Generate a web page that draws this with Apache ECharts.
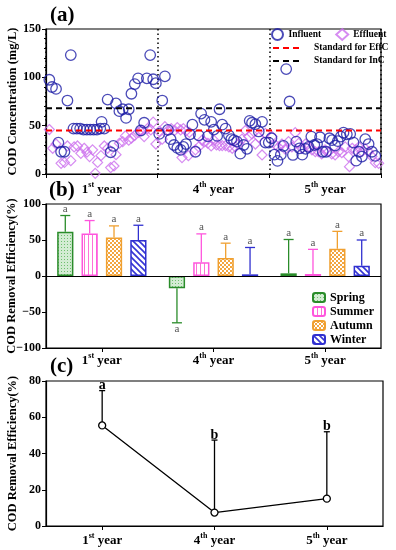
<!DOCTYPE html>
<html><head><meta charset="utf-8">
<script src="https://cdn.jsdelivr.net/npm/echarts@6/dist/echarts.min.js"></script>
<style>html,body{margin:0;padding:0;background:#fff}#c{width:396px;height:550px}</style>
</head><body><div id="c"></div><script>
// ---------- DATA ----------
const yearNum = ['1', '4', '5'];
const yearSup = ['st', 'th', 'th'];
const years = ['1st year', '4th year', '5th year'];

// Panel (a): [sampling position (0-100), COD mg/L]
const influent = [[1.0,97.5],[1.8,90],[3.0,88],[3.7,32.5],[4.5,23],[5.5,23],[6.4,76],[7.4,123],[8.2,47],[9.2,47],[10.2,47],[11.2,46],[12.2,46],[13.2,46],[14.2,46],[15.2,46],[16.2,47],[16.6,54],[17.4,47],[18.4,77],[19.3,22.5],[20.1,29],[20.9,73],[21.9,65],[22.9,67],[23.9,58],[24.7,67],[25.5,83],[26.5,93],[27.5,99],[28.3,45],[29.3,53],[30.1,99],[31.1,123],[32.0,98],[32.8,94],[33.8,41.5],[34.7,76],[35.5,101],[36.4,45.6],
[37.2,36],[38.2,30],[39.2,27],[40.2,25],[41.0,28],[41.8,31],[43.0,41],[43.7,51],[44.6,23],[45.6,40],[46.3,62.5],[47.3,56],[48.3,39],[49.3,54],[50.1,46],[51.1,39.4],[51.8,67],[52.6,51],[53.6,47],[54.6,40],[55.3,36],[56.1,35],[57.0,33.5],[58.0,21],[59.0,30],[60.0,26],[60.8,55],[61.5,53],[62.5,51.5],[63.5,44],[64.5,54],[65.5,32.5],[66.5,32.5],
[67.3,37],[68.2,20],[69.1,13.5],[70.1,20],[70.9,29],[71.7,108.5],[72.7,75],[73.7,19.7],[74.7,33.5],[75.7,26.6],[76.5,20],[77.5,26],[78.4,28],[79.2,38.7],[80.1,30],[80.9,31],[81.8,38],[82.6,23],[83.6,23],[84.6,37],[85.4,35],[86.3,29.4],[87.1,34],[88.0,38.7],[88.8,42.8],[89.8,41],[90.8,41.5],[91.8,32.5],[92.6,13.8],[93.4,23],[94.3,18],[95.3,36],[96.3,31],[97.3,23],[98.3,18.7]];
const effluent = [[1.0,46],[2.0,26.6],[3.0,31],[4.5,11],[5.5,12],[6.4,29],[7.4,13.8],[8.4,28],[9.4,29],[10.4,21.4],[11.4,26.6],[12.2,22.5],[13.0,18],[13.9,25],[14.7,0.7],[15.4,12],[16.4,19],[17.4,29],[18.4,26.6],[19.3,6.6],[20.3,8.3],[20.9,20],[21.9,31.8],[22.9,33.5],[23.7,39.4],[24.7,35],[25.5,37],[26.5,40],[27.5,43],[28.5,45],[29.3,38.7],[30.3,47],[31.3,45.6],[32.0,53.6],[32.8,31],[33.8,44],
[34.7,36],[35.5,49],[36.4,45],[37.4,47],[38.4,45],[39.2,48],[40.2,45.6],[40.6,17],[41.0,47],[41.8,44.6],[42.5,19],[42.8,43],[44.6,25],[45.6,28],[46.6,35],[47.3,33.5],[48.3,31.8],[49.3,29],[50.1,35],[50.9,30],[51.8,29.4],[52.6,29.4],[53.6,29.4],[54.6,28],[55.6,26.6],[56.5,28],[57.5,31],[58.5,36],[59.5,45],[60.5,38.7],[61.5,41.5],[62.5,31],[63.5,38],[64.5,19.7],[65.5,42],
[67.5,38.7],[68.5,30],[69.4,27.6],[70.4,31],[71.4,25.6],[72.4,33.5],[73.4,28],[74.4,42.8],[75.4,31.8],[76.4,26.6],[77.4,31],[78.4,28],[79.4,25],[80.4,23],[81.3,23],[82.3,20.7],[83.3,25],[84.3,23],[85.3,20.7],[86.3,19.7],[87.3,23],[88.3,22],[89.3,28],[90.3,18],[90.6,7.6],[91.4,26.6],[92.4,25],[93.4,28],[94.3,23],[95.3,26],[96.3,23],[97.3,18],[98.3,11.7],[99.3,11]];
const stdEff = 45;
const stdInf = 68;

// Panel (b): seasonal removal efficiency (%) per year
const seasons = ['Spring', 'Summer', 'Autumn', 'Winter'];
const springMean = [61.5, -17, 3.7];
const summerMean = [59, 19, 2.8];
const autumnMean = [53.5, 25, 37.8];
const winterMean = [50, 2.3, 14.3];
const springErr = [84, -65, 50.7];
const summerErr = [77, 58.5, 37];
const autumnErr = [69.6, 45.6, 62];
const winterErr = [70.5, 39.6, 50];
const seasonLetters = ['a', 'a', 'a'];

// Panel (c): yearly removal efficiency (%)
const yearMean = [55.5, 7.4, 15.1];
const yearErr = [74.7, 47.4, 52];
const yearLetters = ['a', 'b', 'b'];

// ---------- STYLE ----------
const FONT = '"Liberation Serif", "Times New Roman", serif';
function pat(w, h, draw) {
  const c = document.createElement('canvas'); c.width = w; c.height = h;
  draw(c.getContext('2d')); return { image: c, repeat: 'repeat' };
}
const patterns = [
  pat(3, 3, g => { g.fillStyle = '#d3ecd3'; g.fillRect(0,0,3,3); g.fillStyle = '#6fbf6f'; g.fillRect(1,1,1,1); }),
  pat(4, 1, g => { g.fillStyle = '#fff'; g.fillRect(0,0,4,1); g.fillStyle = '#ff70d8'; g.fillRect(0,0,1,1); }),
  pat(4, 4, g => { g.fillStyle = '#fff'; g.fillRect(0,0,4,4); g.fillStyle = '#f3a640'; g.fillRect(0,0,2,2); g.fillRect(2,2,2,2); }),
  pat(6, 6, g => { g.fillStyle = '#fff'; g.fillRect(0,0,6,6); g.strokeStyle = '#3535d5'; g.lineWidth = 1.6;
    g.beginPath(); g.moveTo(-1,-1); g.lineTo(7,7); g.moveTo(-4,2); g.lineTo(4,10); g.moveTo(2,-4); g.lineTo(10,4); g.stroke(); })
];
const edges = ['#2a8c2a', '#ff55dd', '#f0a030', '#3030d0'];
const means = [springMean, summerMean, autumnMean, winterMean];
const errs = [springErr, summerErr, autumnErr, winterErr];
const dashIcon = 'path://M0,0h6v2h-6z M10,0h6v2h-6z M20,0h6v2h-6z';

const rich = {
  n: { fontFamily: FONT, fontWeight: 'bold', fontSize: 13, color: '#000', lineHeight: 15, verticalAlign: 'bottom' },
  s: { fontFamily: FONT, fontWeight: 'bold', fontSize: 8, color: '#000', lineHeight: 8, verticalAlign: 'top' }
};
const yearFmt = (v, i) => `{n|${yearNum[i]}}{s|${yearSup[i]}}{n| year}`;
const tickLbl = { fontFamily: FONT, fontWeight: 'bold', fontSize: 12, color: '#000', margin: 5 };
const axLine = { show: true, lineStyle: { color: '#000', width: 1.2 } };
const nameStyle = { fontFamily: FONT, fontWeight: 'bold', fontSize: 12.5, color: '#000' };

const series = [
  { name: 'Influent', type: 'scatter', xAxisIndex: 0, yAxisIndex: 0, data: influent, symbol: 'circle', symbolSize: 10.5,
    itemStyle: { color: 'rgba(0,0,0,0)', borderColor: '#1e1ea6', borderWidth: 1.3 }, z: 3 },
  { name: 'Effluent', type: 'scatter', xAxisIndex: 0, yAxisIndex: 0, data: effluent, symbol: 'diamond', symbolSize: 10,
    itemStyle: { color: 'rgba(0,0,0,0)', borderColor: '#cc6fee', borderWidth: 1.2 }, z: 2 },
  { name: 'Standard for EffC', type: 'line', xAxisIndex: 0, yAxisIndex: 0, data: [[0, stdEff], [100, stdEff]], symbol: 'none',
    lineStyle: { color: '#ff0000', width: 2, type: [6, 4] }, itemStyle: { color: '#ff0000' }, z: 5, silent: true },
  { name: 'Standard for InC', type: 'line', xAxisIndex: 0, yAxisIndex: 0, data: [[0, stdInf], [100, stdInf]], symbol: 'none',
    lineStyle: { color: '#000', width: 2, type: [6, 4] }, itemStyle: { color: '#000' }, z: 5, silent: true }
];

seasons.forEach((s, k) => {
  series.push({
    name: s, type: 'bar', xAxisIndex: 2, yAxisIndex: 1, data: means[k],
    barCategoryGap: '20%', barGap: '50%',
    itemStyle: { color: patterns[k], borderColor: edges[k], borderWidth: 1.5 },
    markLine: k === 0 ? { silent: true, symbol: 'none', label: { show: false },
      lineStyle: { color: '#000', width: 1.2, type: 'solid' }, data: [{ yAxis: 0 }] } : undefined
  });
});
seasons.forEach((s, k) => {
  series.push({
    type: 'custom', xAxisIndex: 2, yAxisIndex: 1, z: 4, silent: true,
    data: means[k].map((m, i) => [i, m, errs[k][i]]),
    encode: { x: 0, y: [1, 2] },
    renderItem: (params, api) => {
      const i = api.value(0), m = api.value(1), e = api.value(2);
      const band = api.size([1, 0])[0];
      const w = band * 0.8 / 5.5;
      const off = -band * 0.4 + w / 2 + k * 1.5 * w;
      const p0 = api.coord([i, m]), p1 = api.coord([i, e]);
      const x = p0[0] + off;
      const neg = e < m;
      return { type: 'group', children: [
        { type: 'line', shape: { x1: x, y1: p0[1], x2: x, y2: p1[1] }, style: { stroke: edges[k], lineWidth: 1.3 } },
        { type: 'line', shape: { x1: x - 5, y1: p1[1], x2: x + 5, y2: p1[1] }, style: { stroke: edges[k], lineWidth: 1.3 } },
        { type: 'text', style: { text: seasonLetters[i], x: x, y: neg ? p1[1] + 1 : p1[1] - 1,
          align: 'center', verticalAlign: neg ? 'top' : 'bottom', font: '11px ' + FONT, fill: '#555' } }
      ] };
    }
  });
});

series.push({
  type: 'custom', xAxisIndex: 3, yAxisIndex: 2, z: 2, silent: true,
  data: yearMean.map((m, i) => [i, m, yearErr[i]]),
  encode: { x: 0, y: [1, 2] },
  renderItem: (params, api) => {
    const i = api.value(0);
    const p0 = api.coord([i, api.value(1)]), p1 = api.coord([i, api.value(2)]);
    return { type: 'group', children: [
      { type: 'line', shape: { x1: p0[0], y1: p0[1], x2: p0[0], y2: p1[1] }, style: { stroke: '#000', lineWidth: 1.3 } },
      { type: 'line', shape: { x1: p0[0] - 3, y1: p1[1], x2: p0[0] + 3, y2: p1[1] }, style: { stroke: '#000', lineWidth: 1.3 } },
      { type: 'text', style: { text: yearLetters[i], x: p0[0], y: p1[1] + 2, align: 'center', verticalAlign: 'bottom',
        font: 'bold 14px ' + FONT, fill: '#000' } }
    ] };
  }
});
series.push({
  name: 'Year', type: 'line', xAxisIndex: 3, yAxisIndex: 2, data: yearMean, symbol: 'circle', symbolSize: 7, z: 4,
  lineStyle: { color: '#000', width: 1.3 }, itemStyle: { color: '#fff', borderColor: '#000', borderWidth: 1.3 }
});

const gridBase = { show: true, borderColor: '#000', borderWidth: 1.2, backgroundColor: 'transparent', containLabel: false, outerBoundsMode: 'none' };
const yName = (text, gap) => ({ name: text, nameLocation: 'middle', nameGap: gap, nameMoveOverlap: false,
  nameTruncate: { maxWidth: 400 }, nameTextStyle: nameStyle });
const chart = echarts.init(document.getElementById('c'), null, { renderer: 'canvas' });
chart.setOption({
  backgroundColor: '#fff',
  animation: false,
  textStyle: { fontFamily: FONT },
  grid: [
    { ...gridBase, left: 46, top: 29, width: 335, height: 145 },
    { ...gridBase, left: 46, top: 204, width: 335, height: 144 },
    { ...gridBase, left: 46, top: 381, width: 337, height: 145 }
  ],
  xAxis: [
    { type: 'value', gridIndex: 0, min: 0, max: 100, show: false, position: 'top' },
    { type: 'category', gridIndex: 0, data: years, boundaryGap: true, position: 'bottom', axisLine: axLine,
      axisTick: { show: true, length: 4, interval: 0, lineStyle: { color: '#000' } },
      axisLabel: { formatter: yearFmt, rich: rich, margin: 7, interval: 0 },
      splitLine: { show: true, interval: 0, lineStyle: { color: '#000', type: [1.5, 3], width: 1.5 } } },
    { type: 'category', gridIndex: 1, data: years, position: 'bottom', axisLine: { ...axLine, onZero: false },
      axisTick: { show: true, alignWithLabel: true, interval: 0, length: 4, lineStyle: { color: '#000' } },
      axisLabel: { formatter: yearFmt, rich: rich, margin: 4, interval: 0 } },
    { type: 'category', gridIndex: 2, data: years, position: 'bottom', axisLine: axLine,
      axisTick: { show: true, alignWithLabel: true, interval: 0, length: 4, lineStyle: { color: '#000' } },
      axisLabel: { formatter: yearFmt, rich: rich, margin: 6, interval: 0 } }
  ],
  yAxis: [
    { type: 'value', gridIndex: 0, min: 0, max: 150, interval: 50, axisLine: axLine,
      axisTick: { show: true, length: 4, lineStyle: { color: '#000' } },
      minorTick: { show: true, splitNumber: 5, length: 2, lineStyle: { color: '#000' } },
      splitLine: { show: false }, axisLabel: tickLbl, ...yName('COD Concentration (mg/L)', 27) },
    { type: 'value', gridIndex: 1, min: -100, max: 100, interval: 50, axisLine: axLine,
      axisTick: { show: true, length: 4, lineStyle: { color: '#000' } },
      splitLine: { show: false }, axisLabel: { ...tickLbl, formatter: v => v < 0 ? '\u2212' + Math.abs(v) : String(v) },
      ...yName('COD Removal Efficiency(%)', 28) },
    { type: 'value', gridIndex: 2, min: 0, max: 80, interval: 20, axisLine: axLine,
      axisTick: { show: true, length: 4, lineStyle: { color: '#000' } },
      splitLine: { show: false }, axisLabel: tickLbl, ...yName('COD Removal Efficiency(%)', 27) }
  ],
  legend: [
    { data: ['Influent', 'Effluent'], orient: 'horizontal', left: 271, top: 28, itemWidth: 12, itemHeight: 11, itemGap: 14,
      padding: 0, textStyle: { fontFamily: FONT, fontWeight: 'bold', fontSize: 9.5, color: '#000' } },
    { data: [{ name: 'Standard for EffC', icon: dashIcon, itemStyle: { color: '#ff0000' } },
             { name: 'Standard for InC', icon: dashIcon, itemStyle: { color: '#000' } }],
      orient: 'vertical', left: 273, top: 43, itemWidth: 26, itemHeight: 2.5, itemGap: 3,
      padding: 0, textStyle: { fontFamily: FONT, fontWeight: 'bold', fontSize: 9.5, color: '#000', padding: [0, 0, 0, 10] } },
    { data: seasons, orient: 'vertical', left: 312, top: 291, itemWidth: 12, itemHeight: 9, itemGap: 1, padding: 0,
      textStyle: { fontFamily: FONT, fontWeight: 'bold', fontSize: 12, lineHeight: 13, color: '#000' } }
  ],
  graphic: [
    { type: 'text', left: 50, top: 5, style: { text: '(a)', font: 'bold 21px ' + FONT, fill: '#000' } },
    { type: 'text', left: 49, top: 180, style: { text: '(b)', font: 'bold 21px ' + FONT, fill: '#000' } },
    { type: 'text', left: 50, top: 356, style: { text: '(c)', font: 'bold 21px ' + FONT, fill: '#000' } }
  ],
  series: series
});
</script></body></html>
